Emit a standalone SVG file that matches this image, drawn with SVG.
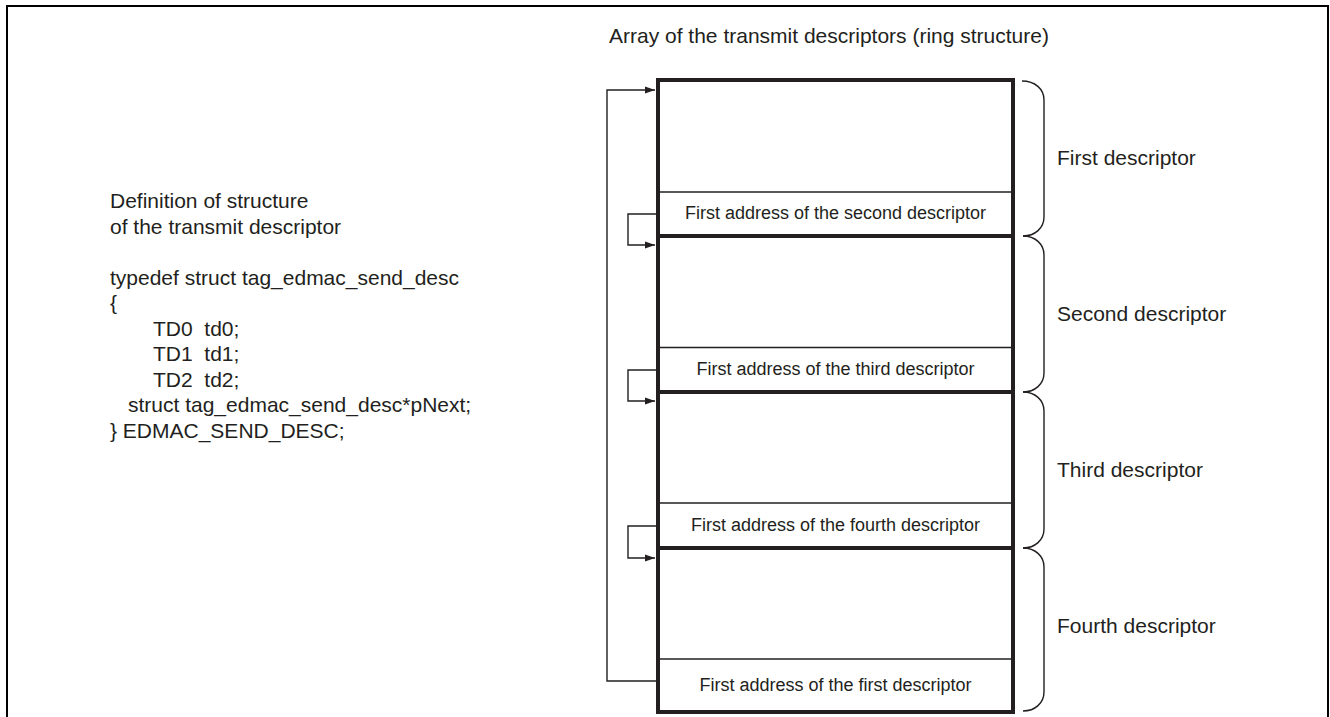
<svg xmlns="http://www.w3.org/2000/svg" width="1330" height="717" viewBox="0 0 1330 717">
<style>
text{font-family:"Liberation Sans",Arial,sans-serif;fill:#231f20;white-space:pre}
.t21{font-size:21px}
.t18{font-size:18px}
.thin{stroke:#231f20;stroke-width:1.4;fill:none}
.thick{stroke:#231f20;stroke-width:4;fill:none}
.conn{stroke:#231f20;stroke-width:1.4;fill:none}
.brace{stroke:#231f20;stroke-width:1.4;fill:none}
</style>
<defs>
<marker id="ah" markerWidth="10" markerHeight="8" refX="10" refY="4" orient="auto" markerUnits="userSpaceOnUse">
<path d="M0,0.5 L10,4 L0,7.5 Z" fill="#231f20"/>
</marker>
</defs>
<rect width="1330" height="717" fill="#fff"/>
<path d="M7,717 V6 H1328 V717" fill="none" stroke="#000" stroke-width="2"/>

<g id="title">
<text class="t21" x="609" y="43">Array of the transmit descriptors (ring structure)</text>
</g>

<g id="struct-def">
<text class="t21" x="110" y="208">Definition of structure</text>
<text class="t21" x="110" y="233.5">of the transmit descriptor</text>
<text class="t21" x="110" y="284.5">typedef struct tag_edmac_send_desc</text>
<text class="t21" x="110" y="310">{</text>
<text class="t21" x="153" y="335.5" xml:space="preserve">TD0  td0;</text>
<text class="t21" x="153" y="361" xml:space="preserve">TD1  td1;</text>
<text class="t21" x="153" y="386.5" xml:space="preserve">TD2  td2;</text>
<text class="t21" x="128" y="412">struct tag_edmac_send_desc*pNext;</text>
<text class="t21" x="110" y="437.5">} EDMAC_SEND_DESC;</text>
</g>

<g id="desc1">
<line class="thin" x1="658" y1="192" x2="1013" y2="192"/>
<text class="t18" x="835.5" y="219" text-anchor="middle">First address of the second descriptor</text>
</g>
<g id="desc2">
<line class="thin" x1="658" y1="347.5" x2="1013" y2="347.5"/>
<text class="t18" x="835.5" y="375" text-anchor="middle">First address of the third descriptor</text>
</g>
<g id="desc3">
<line class="thin" x1="658" y1="503" x2="1013" y2="503"/>
<text class="t18" x="835.5" y="531" text-anchor="middle">First address of the fourth descriptor</text>
</g>
<g id="desc4">
<line class="thin" x1="658" y1="659" x2="1013" y2="659"/>
<text class="t18" x="835.5" y="691" text-anchor="middle">First address of the first descriptor</text>
</g>
<g id="array">
<rect class="thick" x="658" y="80" width="355" height="632"/>
<line class="thick" x1="658" y1="236" x2="1013" y2="236"/>
<line class="thick" x1="658" y1="392" x2="1013" y2="392"/>
<line class="thick" x1="658" y1="548" x2="1013" y2="548"/>
</g>

<g id="braces">
<path class="brace" d="M1022,81 C1035,81 1044,89 1044,100 V217 C1044,228 1035,236 1023,236"/>
<path class="brace" d="M1023,236 C1035,236 1044,244 1044,255 V373 C1044,384 1035,392 1023,392"/>
<path class="brace" d="M1023,392 C1035,392 1044,400 1044,411 V529 C1044,540 1035,548 1023,548"/>
<path class="brace" d="M1023,548 C1035,548 1044,556 1044,567 V692 C1044,703 1035,711 1023,711"/>
</g>

<g id="labels">
<text class="t21" x="1057" y="165">First descriptor</text>
<text class="t21" x="1057" y="321">Second descriptor</text>
<text class="t21" x="1057" y="477">Third descriptor</text>
<text class="t21" x="1057" y="633">Fourth descriptor</text>
</g>

<g id="connectors">
<path class="conn" d="M656,681 H607 V90 H655" marker-end="url(#ah)"/>
<path class="conn" d="M656,214 H628 V245 H655" marker-end="url(#ah)"/>
<path class="conn" d="M656,370 H628 V401 H655" marker-end="url(#ah)"/>
<path class="conn" d="M656,526 H628 V558 H655" marker-end="url(#ah)"/>
</g>
</svg>
